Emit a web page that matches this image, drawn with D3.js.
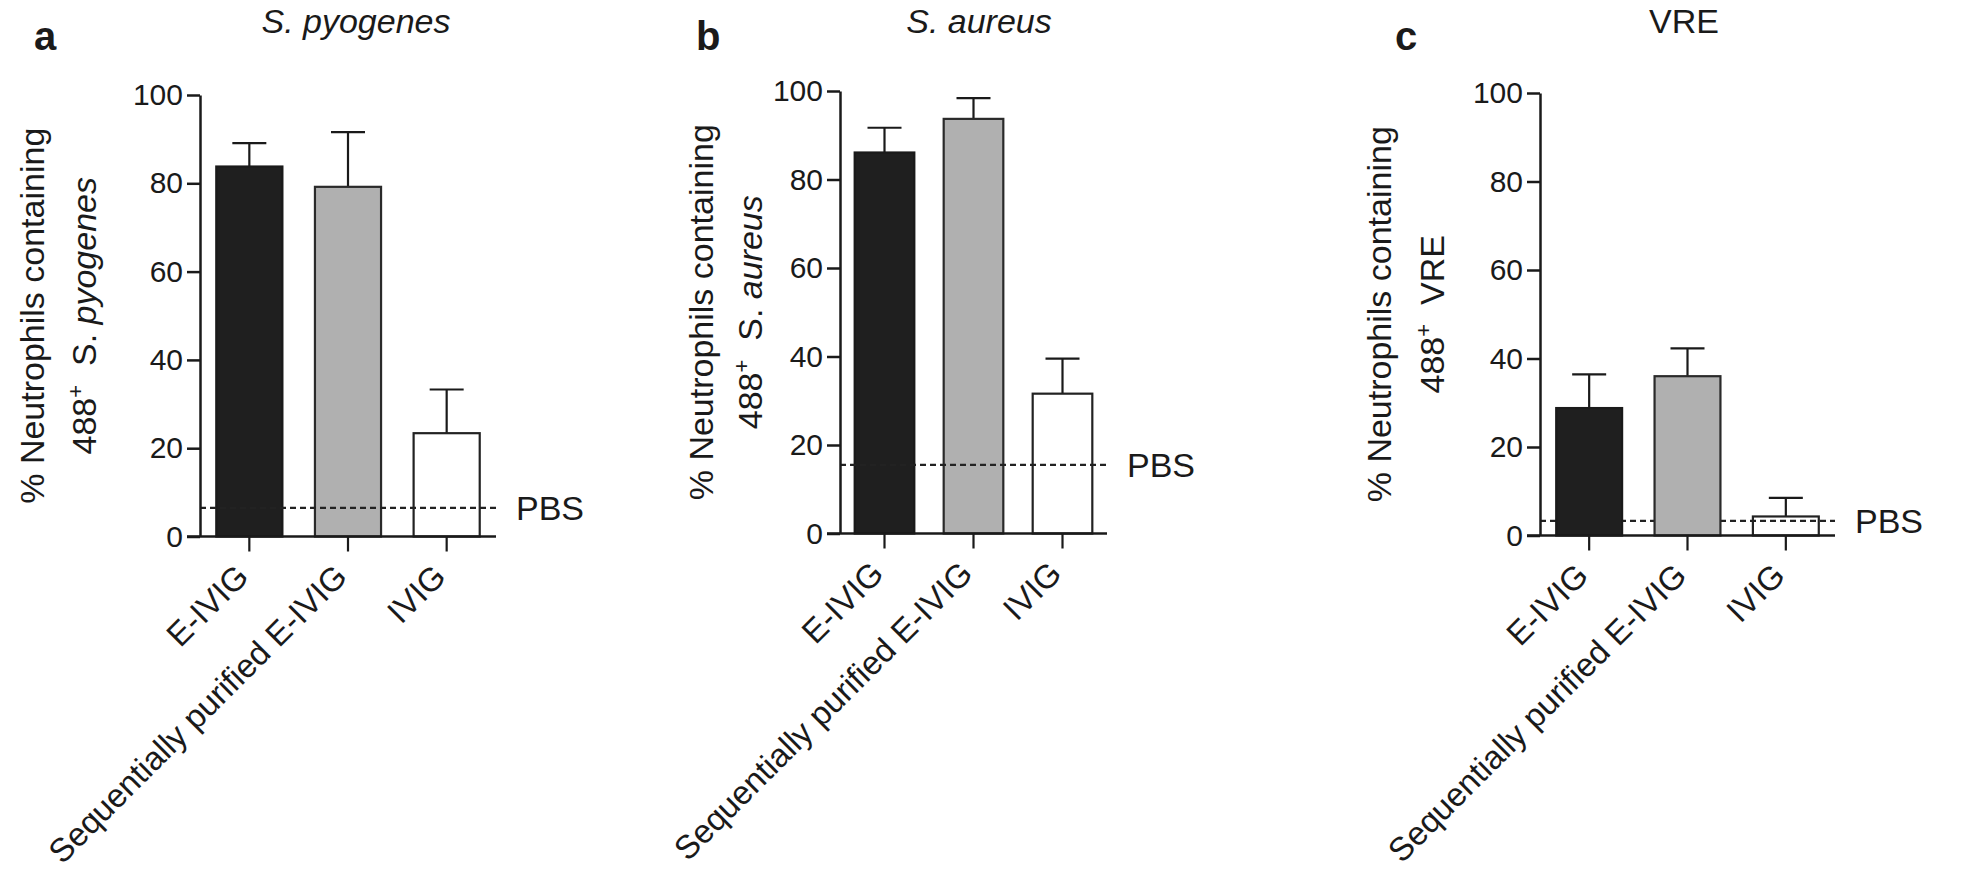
<!DOCTYPE html>
<html>
<head>
<meta charset="utf-8">
<script src="https://cdn.jsdelivr.net/npm/d3@7"></script>
<style>
  html, body { margin: 0; padding: 0; background: #ffffff; }
  svg { display: block; }
  text { font-family: "Liberation Sans", Arial, Helvetica, sans-serif; fill: #1a1a1a; }
</style>
</head>
<body>
<svg id="chart" width="1961" height="873"></svg>
<script>
// ---------------- data ----------------
const categories = ["E-IVIG", "Sequentially purified E-IVIG", "IVIG"];
const yTicks = [0, 20, 40, 60, 80, 100];

const pyogenesMeans = [83.8, 79.2, 23.4];
const pyogenesErrors = [5.3, 12.4, 9.9];
const pyogenesPBS = 6.5;

const aureusMeans = [86.1, 93.7, 31.6];
const aureusErrors = [5.6, 4.7, 7.9];
const aureusPBS = 15.5;

const vreMeans = [28.8, 36.0, 4.3];
const vreErrors = [7.6, 6.3, 4.2];
const vrePBS = 3.3;

const panelLetters = ["a", "b", "c"];
const panelTitles = ["S. pyogenes", "S. aureus", "VRE"];
const titleItalic = [true, true, false];
const yLabelLine1 = "% Neutrophils containing";
const yLabelOrganism = [["S. ", "pyogenes"], ["S. ", "aureus"], ["", "VRE"]];
const pbsLabel = "PBS";

// ---------------- layout (not data) ----------------
const barFills = ["#1f1f1f", "#b0b0b0", "#ffffff"];
const barStrokes = ["#1a1a1a", "#2a2a2a", "#222222"];

const panels = [
  { means: pyogenesMeans, errors: pyogenesErrors, pbs: pyogenesPBS,
    x0: 200, x1: 496, y0: 536.5, y100: 95, titleX: 356, letterX: 34,
    lab1: -156, lab2: -104, pbsBehind: false },
  { means: aureusMeans, errors: aureusErrors, pbs: aureusPBS,
    x0: 840, x1: 1107, y0: 533.5, y100: 91, titleX: 979, letterX: 696,
    lab1: -127, lab2: -78, pbsBehind: false },
  { means: vreMeans, errors: vreErrors, pbs: vrePBS,
    x0: 1540, x1: 1835, y0: 535.5, y100: 93, titleX: 1684, letterX: 1395,
    lab1: -149, lab2: -96, pbsBehind: true }
];

const svg = d3.select("#chart");
const ink = "#1a1a1a";

panels.forEach((p, i) => {
  const g = svg.append("g");
  const x = d3.scaleBand().domain(categories).range([p.x0, p.x1])
    .paddingInner(0.33).paddingOuter(0.165);
  const y = d3.scaleLinear().domain([0, 100]).range([p.y0, p.y100]);
  const bw = x.bandwidth();

  const drawPBS = () => {
    g.append("line")
      .attr("x1", p.x0).attr("x2", p.x1)
      .attr("y1", y(p.pbs)).attr("y2", y(p.pbs))
      .attr("stroke", "#222").attr("stroke-width", 2.2)
      .attr("stroke-dasharray", "6,4");
  };

  if (p.pbsBehind) drawPBS();

  // error bars (upper only)
  const errG = g.append("g");
  categories.forEach((c, k) => {
    const cx = x(c) + bw / 2;
    const top = y(p.means[k] + p.errors[k]);
    errG.append("line").attr("x1", cx).attr("x2", cx)
      .attr("y1", y(p.means[k])).attr("y2", top)
      .attr("stroke", ink).attr("stroke-width", 2.2);
    errG.append("line").attr("x1", cx - 17).attr("x2", cx + 17)
      .attr("y1", top).attr("y2", top)
      .attr("stroke", ink).attr("stroke-width", 2.2);
  });

  // bars
  g.append("g").selectAll("rect").data(categories).join("rect")
    .attr("x", c => x(c))
    .attr("y", (c, k) => y(p.means[k]))
    .attr("width", bw)
    .attr("height", (c, k) => y(0) - y(p.means[k]))
    .attr("fill", (c, k) => (p.pbsBehind && k === 2) ? "none" : barFills[k])
    .attr("stroke", (c, k) => barStrokes[k])
    .attr("stroke-width", 2.2);

  if (!p.pbsBehind) drawPBS();

  // PBS label
  g.append("text").attr("x", p.x1 + 20).attr("y", y(p.pbs))
    .attr("dy", "0.36em").attr("font-size", 34).text(pbsLabel);

  // y axis
  const yAxis = d3.axisLeft(y).tickValues(yTicks).tickSize(13).tickSizeOuter(0).tickPadding(4);
  const ya = g.append("g").attr("transform", `translate(${p.x0},0)`).call(yAxis);
  ya.select(".domain").attr("stroke", ink).attr("stroke-width", 2.5);
  ya.selectAll(".tick line").attr("stroke", ink).attr("stroke-width", 2.5);
  ya.selectAll(".tick text").attr("font-size", 30)
    .attr("font-family", "Liberation Sans, Arial, sans-serif").attr("fill", ink);

  // x axis line
  g.append("line").attr("x1", p.x0 - 13).attr("x2", p.x1)
    .attr("y1", y(0)).attr("y2", y(0))
    .attr("stroke", ink).attr("stroke-width", 2.5);

  // x ticks and labels
  const xa = g.append("g").selectAll("g").data(categories).join("g")
    .attr("transform", c => `translate(${x(c) + bw / 2},${y(0)})`);
  xa.append("line").attr("y1", 0).attr("y2", 15)
    .attr("stroke", ink).attr("stroke-width", 2.2);
  xa.append("text")
    .attr("transform", "translate(1,42) rotate(-45)")
    .attr("text-anchor", "end")
    .attr("font-size", 33)
    .text(c => c);

  // title
  g.append("text").attr("x", p.titleX).attr("y", 33)
    .attr("text-anchor", "middle").attr("font-size", 34)
    .attr("font-style", titleItalic[i] ? "italic" : "normal")
    .text(panelTitles[i]);

  // panel letter
  g.append("text").attr("x", p.letterX).attr("y", 50)
    .attr("font-size", 40).attr("font-weight", "bold")
    .text(panelLetters[i]);

  // y label
  const yc = (y(0) + y(100)) / 2;
  g.append("text")
    .attr("transform", `translate(${p.x0 + p.lab1},${yc}) rotate(-90)`)
    .attr("text-anchor", "middle").attr("font-size", 34)
    .text(yLabelLine1);
  const t2 = g.append("text")
    .attr("transform", `translate(${p.x0 + p.lab2},${yc}) rotate(-90)`)
    .attr("text-anchor", "middle").attr("font-size", 34);
  t2.append("tspan").text("488");
  t2.append("tspan").attr("dy", -13).attr("font-size", 22).text("+");
  t2.append("tspan").attr("dy", 13).text("\u00a0\u00a0" + yLabelOrganism[i][0]);
  t2.append("tspan").attr("font-style", titleItalic[i] ? "italic" : "normal")
    .text(yLabelOrganism[i][1]);
});
</script>
</body>
</html>
